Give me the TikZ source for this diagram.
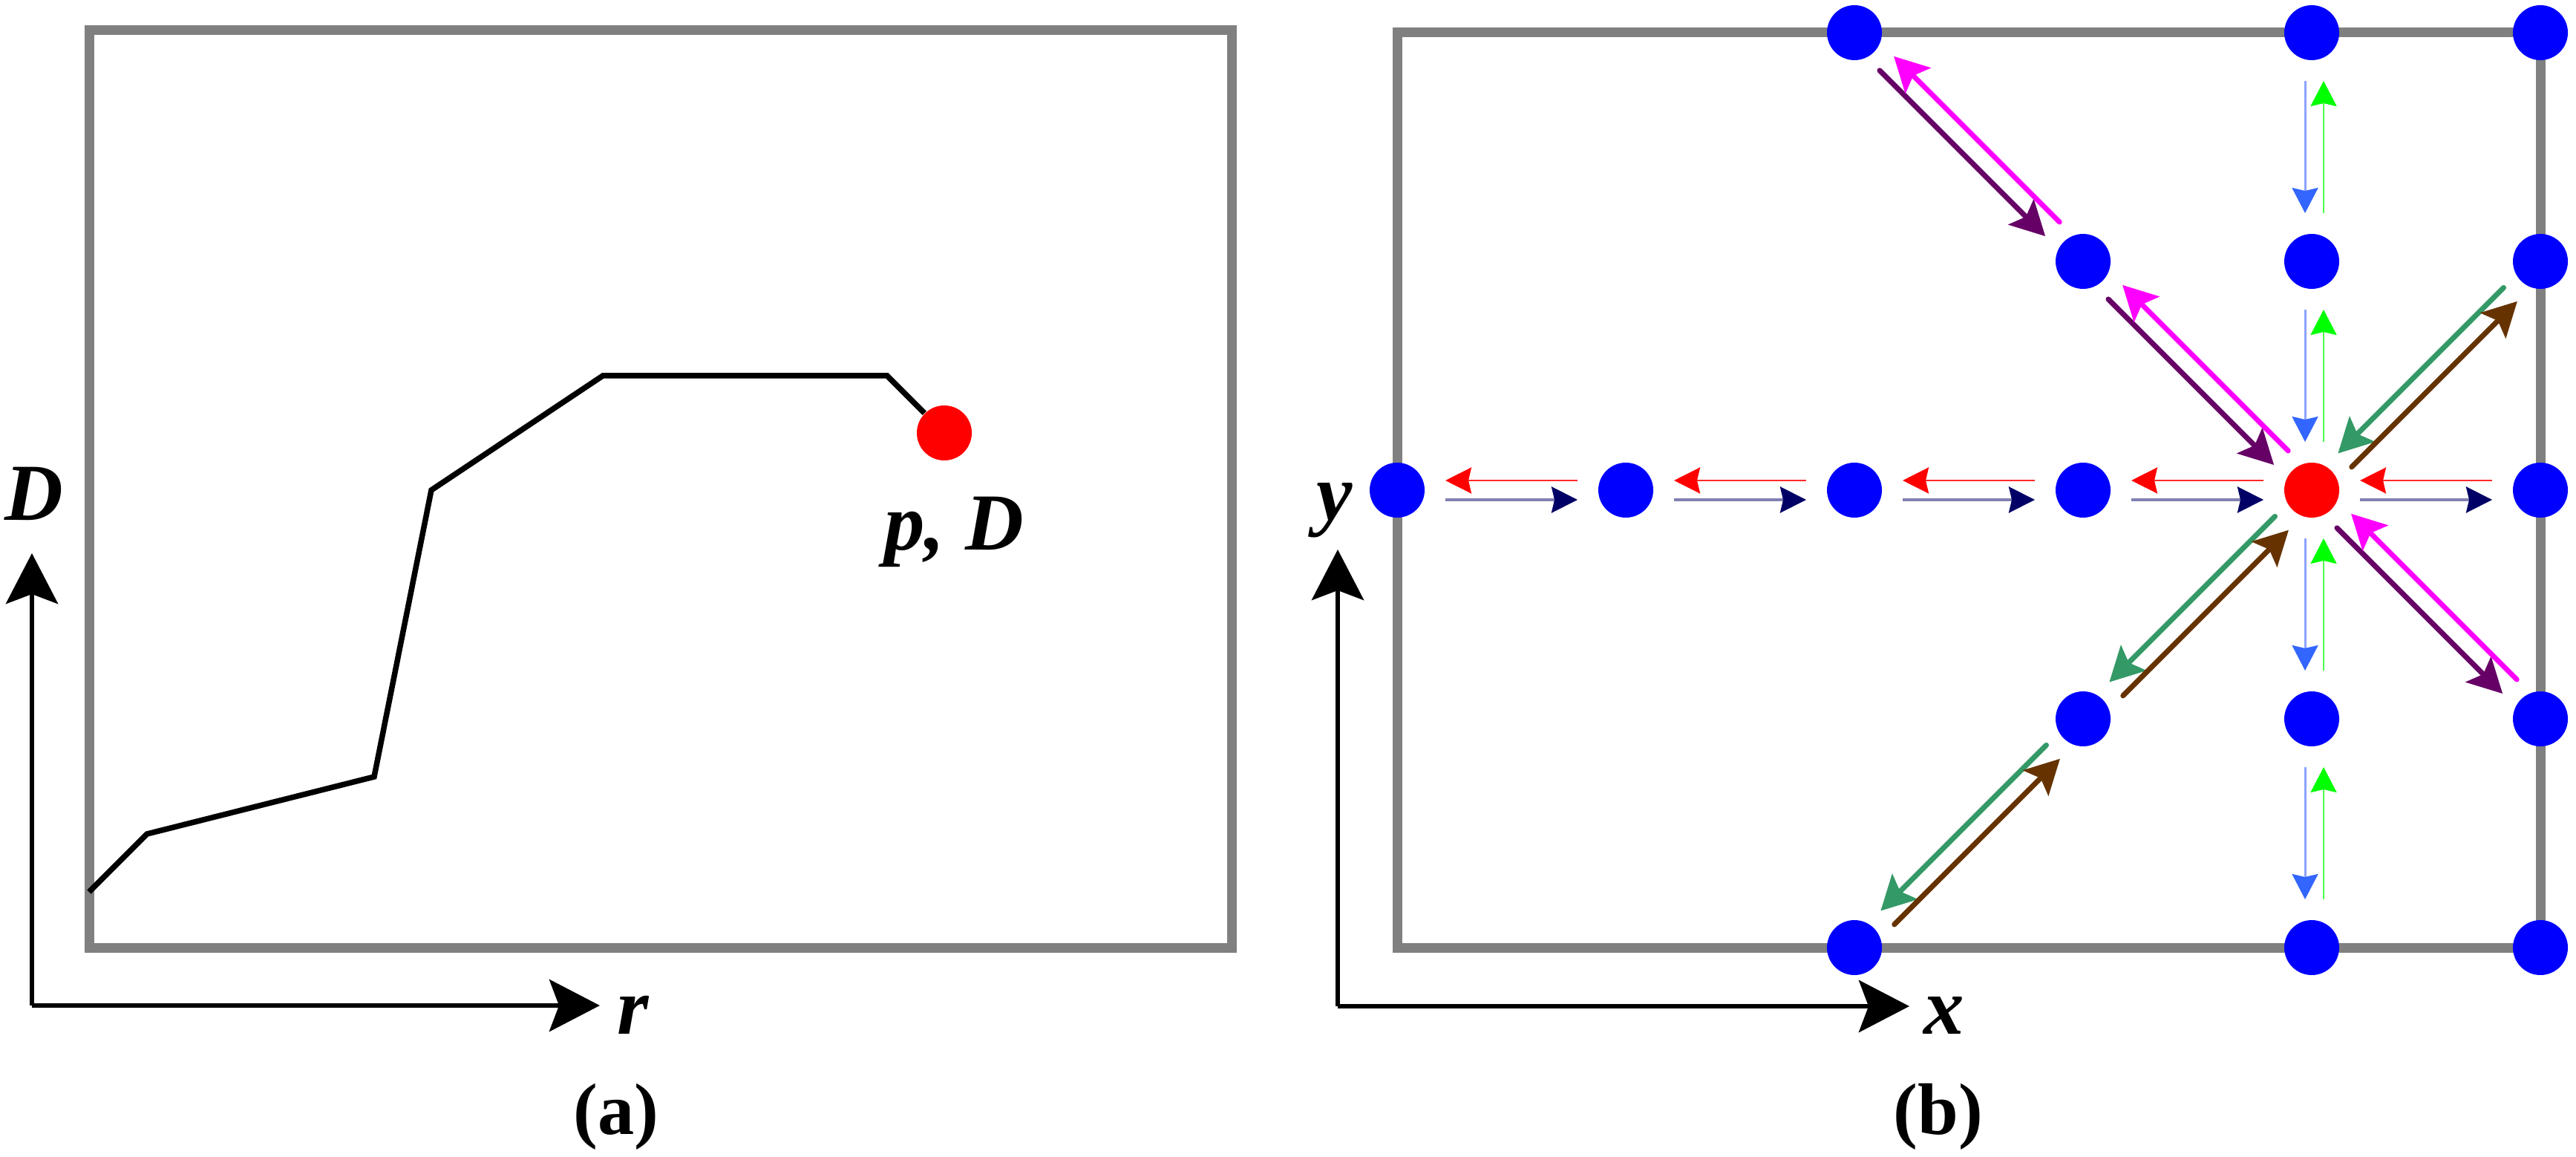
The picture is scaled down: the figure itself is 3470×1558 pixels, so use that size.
\documentclass[tikz,border=0pt]{standalone}
\usepackage{fontspec}
\setmainfont{Liberation Serif}
\usetikzlibrary{arrows.meta,calc}
\definecolor{navyhead}{HTML}{000066}
\definecolor{navyline}{HTML}{8080B3}
\definecolor{bluehead}{HTML}{3366FF}
\definecolor{blueline}{HTML}{8CA3FF}
\definecolor{greenhead}{HTML}{00FF00}
\definecolor{greenline}{HTML}{4DFF4D}
\definecolor{redline}{HTML}{FF2A2A}
\definecolor{purp}{HTML}{660066}
\definecolor{magen}{HTML}{FF00FF}
\definecolor{teal2}{HTML}{339966}
\definecolor{brown2}{HTML}{663300}
\definecolor{boxgray}{HTML}{808080}
\newcommand\arr[5]{\draw[#3] ($(#1.center)!#5!(#2.center)!#4!-90:(#2.center)$) -- ($(#2.center)!#5!(#1.center)!#4!90:(#1.center)$);}
\tikzset{
  dot/.style={circle,inner sep=0pt,minimum size=7.4mm,fill=blue,draw=none},
  reddot/.style={dot,fill=red},
  framebox/.style={draw=boxgray,line width=1.3mm},
  curveline/.style={draw=black,line width=0.75mm,line join=miter},
  axisline/.style={draw=black,line width=0.65mm,-{Stealth[length=6.8mm,width=7mm,inset=1.3mm]}},
  lab/.style={inner sep=0pt,font=\fontsize{31}{31}\selectfont\bfseries\itshape},
  captxt/.style={inner sep=0pt,font=\fontsize{28}{28}\selectfont\bfseries},
  redarr/.style={draw=redline,line width=0.27mm,-{Stealth[length=3.5mm,width=3.5mm,inset=0.4mm,color=red]}},
  navyarr/.style={draw=navyline,line width=0.4mm,-{Stealth[length=3.5mm,width=3.5mm,inset=0.4mm,color=navyhead]}},
  bluearr/.style={draw=blueline,line width=0.3mm,-{Stealth[length=3.4mm,width=3.5mm,inset=0.4mm,color=bluehead]}},
  greenarr/.style={draw=greenline,line width=0.27mm,-{Stealth[length=3.4mm,width=3.5mm,inset=0.4mm,color=greenhead]}},
  diagarr/.style={line width=0.7mm,line cap=round,-{Stealth[length=4.6mm,width=4.8mm,inset=0.9mm]}},
  purparr/.style={diagarr,draw=purp,fill=purp},
  magarr/.style={diagarr,draw=magen,fill=magen},
  tealarr/.style={diagarr,draw=teal2,fill=teal2},
  brownarr/.style={diagarr,draw=brown2,fill=brown2}
}
\begin{document}
\begin{tikzpicture}[x=0.1mm,y=-0.1mm]
\useasboundingbox (0,0) rectangle (3470,1558);
% ---------- panel (a)
\draw[framebox] (120,41) rectangle (1659,1276);
\node[reddot] (pa) at (1272,583) {};
\coordinate (c0) at (120,1201);
\draw[curveline] (c0) -- (198,1123) -- (504,1046) -- (581,660) -- (812,506) -- (1195,506) -- (pa);
\coordinate (oa) at (43,1354);
\coordinate (da) at (43,745);
\coordinate (ra) at (808,1354);
\draw[axisline] (oa) -- (da);
\draw[axisline] (oa) -- (ra);
\node[lab,anchor=base] (labD) at (46,700) {D};
\node[lab,anchor=base] (labr) at (853,1392) {r};
\node[lab,anchor=base] (labpD) at (1285,740) {p, D};
\node[captxt,anchor=base] (capa) at (830,1527) {(a)};
% ---------- panel (b)
\draw[framebox] (1882,44) rectangle (3422,1276);
\coordinate (ob) at (1802,1355);
\coordinate (yb) at (1802,740);
\coordinate (xb) at (2572,1355);
\draw[axisline] (ob) -- (yb);
\draw[axisline] (ob) -- (xb);
\node[lab,anchor=base] (laby) at (1798,700) {y};
\node[lab,anchor=base] (labx) at (2619,1392) {x};
\node[captxt,anchor=base] (capb) at (2611,1527) {(b)};
\foreach \i/\j in {2/0,4/0,5/0,3/1,4/1,5/1,0/2,1/2,2/2,3/2,5/2,3/3,4/3,5/3,2/4,4/4,5/4}
  \node[dot] (g\i\j) at ({1882+308*\i},{44+308*\j}) {};
\node[reddot] (g42) at ({1882+308*4},{44+308*2}) {};
% horizontal
\foreach \a/\b in {0/1,1/2,2/3,3/4,4/5}{
  \arr{g\a2}{g\b2}{navyarr}{1.3mm}{6.5mm}
  \arr{g\b2}{g\a2}{redarr}{1.3mm}{6.5mm}
}
% vertical
\foreach \a/\b in {0/1,1/2,2/3,3/4}{
  \arr{g4\a}{g4\b}{bluearr}{0.9mm}{6.5mm}
  \arr{g4\b}{g4\a}{greenarr}{1.6mm}{6.5mm}
}
% diagonal NW-SE
\foreach \a/\b in {g20/g31,g31/g42,g42/g53}{
  \arr{\a}{\b}{purparr}{1.2mm}{6.0mm}
  \arr{\b}{\a}{magarr}{1.5mm}{6.0mm}
}
% diagonal NE-SW
\foreach \a/\b in {g51/g42,g42/g33,g33/g24}{
  \arr{\a}{\b}{tealarr}{1.0mm}{6.0mm}
  \arr{\b}{\a}{brownarr}{1.6mm}{6.0mm}
}
\end{tikzpicture}
\end{document}
